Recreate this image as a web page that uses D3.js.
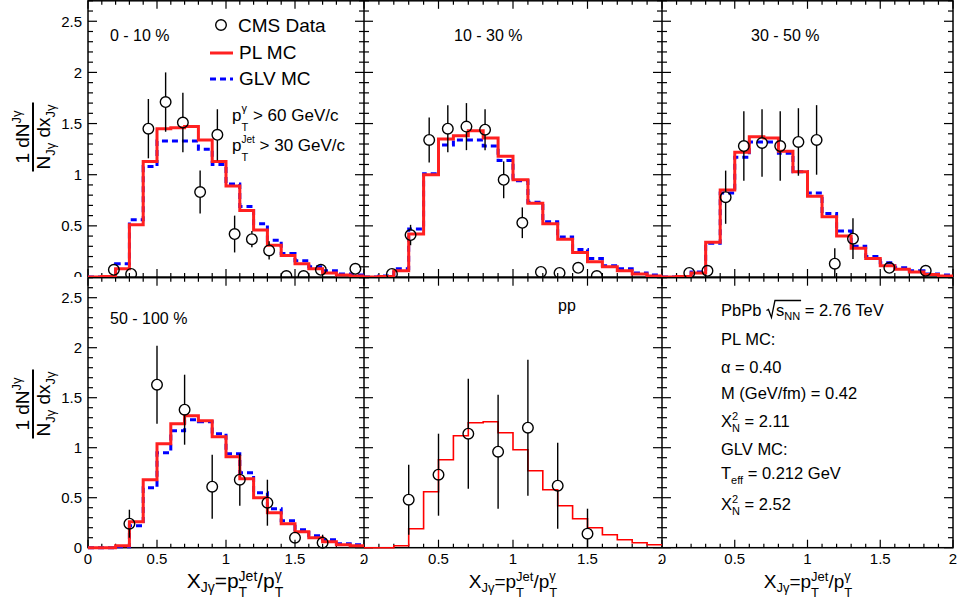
<!DOCTYPE html>
<html>
<head>
<meta charset="utf-8">
<script src="https://cdn.jsdelivr.net/npm/d3@7"></script>
<style>
body { margin: 0; background: #fff; }
svg text { font-family: "Liberation Sans", Arial, Helvetica, sans-serif; white-space: pre; fill: #000; }
</style>
</head>
<body>
<svg id="chart" width="958" height="605"></svg>
<script>
// histogram bin edges (x_Jgamma), shared by all MC curves
var binEdges = [0, 0.1, 0.2, 0.3, 0.4, 0.5, 0.6, 0.7, 0.8, 0.9, 1.0,
                1.1, 1.2, 1.3, 1.4, 1.5, 1.6, 1.7, 1.8, 1.9, 2.0];

// PL MC (red) and GLV MC (blue dashed), one value per bin
var pl_0_10   = [0.0, 0.005, 0.08, 0.51, 1.13, 1.45, 1.46, 1.47, 1.34, 1.13, 0.89, 0.65, 0.46, 0.31, 0.21, 0.13, 0.08, 0.04, 0.02, 0.01];
var glv_0_10  = [0.0, 0.0, 0.13, 0.56, 1.08, 1.33, 1.33, 1.33, 1.25, 1.10, 0.91, 0.69, 0.52, 0.36, 0.23, 0.16, 0.10, 0.06, 0.03, 0.02];
var pl_10_30  = [0.0, 0.005, 0.06, 0.42, 1.00, 1.35, 1.38, 1.43, 1.36, 1.18, 0.95, 0.72, 0.52, 0.37, 0.24, 0.15, 0.10, 0.06, 0.03, 0.01];
var glv_10_30 = [0.0, 0.01, 0.08, 0.47, 1.01, 1.29, 1.34, 1.34, 1.28, 1.14, 0.94, 0.73, 0.54, 0.39, 0.27, 0.18, 0.11, 0.08, 0.04, 0.02];
var pl_30_50  = [0.0, 0.005, 0.04, 0.34, 0.85, 1.22, 1.37, 1.36, 1.23, 1.03, 0.79, 0.59, 0.40, 0.28, 0.18, 0.11, 0.075, 0.05, 0.025, 0.01];
var glv_30_50 = [0.0, 0.005, 0.05, 0.33, 0.82, 1.17, 1.32, 1.32, 1.21, 1.03, 0.82, 0.62, 0.45, 0.30, 0.20, 0.14, 0.09, 0.06, 0.03, 0.02];
var pl_50_100 = [0.0, 0.0, 0.02, 0.26, 0.68, 1.04, 1.24, 1.32, 1.27, 1.11, 0.91, 0.69, 0.50, 0.35, 0.24, 0.16, 0.10, 0.06, 0.03, 0.02];
var glv_50_100= [0.0, 0.0, 0.01, 0.22, 0.60, 0.95, 1.17, 1.28, 1.26, 1.14, 0.94, 0.75, 0.55, 0.39, 0.27, 0.18, 0.12, 0.08, 0.04, 0.03];
var pl_pp     = [0.0, 0.0, 0.02, 0.19, 0.56, 0.88, 1.12, 1.25, 1.26, 1.15, 0.98, 0.77, 0.58, 0.42, 0.29, 0.20, 0.13, 0.08, 0.05, 0.03];

// CMS data points: x, value, error
var cmsX_0_10 = [0.1875, 0.3125, 0.4375, 0.5625, 0.6875, 0.8125, 0.9375, 1.0625, 1.1875, 1.3125, 1.4375, 1.5625, 1.6875, 1.9375];
var cmsY_0_10 = [0.07, 0.03, 1.45, 1.71, 1.51, 0.83, 1.39, 0.42, 0.37, 0.26, 0.01, 0.01, 0.07, 0.08];
var cmsE_0_10 = [0.02, 0.0, 0.29, 0.29, 0.29, 0.21, 0.25, 0.18, 0.08, 0.09, 0.0, 0.0, 0.02, 0.02];

var cmsX_10_30 = [0.1875, 0.3125, 0.4375, 0.5625, 0.6875, 0.8125, 0.9375, 1.0625, 1.1875, 1.3125, 1.4375, 1.5625];
var cmsY_10_30 = [0.03, 0.41, 1.34, 1.45, 1.47, 1.44, 0.95, 0.53, 0.05, 0.04, 0.09, 0.01];
var cmsE_10_30 = [0.0, 0.10, 0.22, 0.23, 0.23, 0.20, 0.18, 0.15, 0.05, 0.05, 0.04, 0.0];

var cmsX_30_50 = [0.1875, 0.3125, 0.4375, 0.5625, 0.6875, 0.8125, 0.9375, 1.0625, 1.1875, 1.3125, 1.5625, 1.8125];
var cmsY_30_50 = [0.04, 0.06, 0.78, 1.28, 1.31, 1.28, 1.32, 1.34, 0.13, 0.375, 0.09, 0.06];
var cmsE_30_50 = [0.0, 0.03, 0.26, 0.34, 0.33, 0.34, 0.33, 0.34, 0.15, 0.20, 0.05, 0.02];

var cmsX_50_100 = [0.3, 0.5, 0.7, 0.9, 1.1, 1.3, 1.5, 1.7];
var cmsY_50_100 = [0.24, 1.63, 1.38, 0.61, 0.68, 0.45, 0.10, 0.05];
var cmsE_50_100 = [0.14, 0.39, 0.35, 0.32, 0.26, 0.23, 0.04, 0.08];

var cmsX_pp = [0.3, 0.5, 0.7, 0.9, 1.1, 1.3, 1.5];
var cmsY_pp = [0.48, 0.73, 1.14, 0.96, 1.20, 0.62, 0.14];
var cmsE_pp = [0.35, 0.41, 0.55, 0.57, 0.68, 0.43, 0.25];

var centLabels = ["0 - 10 %", "10 - 30 %", "30 - 50 %", "50 - 100 %", "pp"];
var yTickLabels = [0, 0.5, 1, 1.5, 2, 2.5];
var xTickLabels = [0, 0.5, 1, 1.5, 2];

var fitText = ["PL MC:", "\u03b1 = 0.40", "M (GeV/fm) = 0.42", "2.11", "GLV MC:", "0.212 GeV", "2.52"];

var svg = d3.select("#chart");
var RED = "#ff2020", BLUE = "#0000ff";

// pad geometry (ROOT-like canvas divided 3x2)
var cols = [{px: [0, 364], fx: [88, 364]},
            {px: [364, 662], fx: [364, 662]},
            {px: [662, 958], fx: [662, 953]}];
var rows = [{py: [0, 277], fy: [277, 0.8]},
            {py: [277, 605], fy: [547.7, 277.7]}];

var panels = [
  {c: 0, r: 0, lab: centLabels[0], lx: 110, ly: 41, pl: pl_0_10, glv: glv_0_10, dx: cmsX_0_10, dy: cmsY_0_10, de: cmsE_0_10},
  {c: 1, r: 0, lab: centLabels[1], lx: 454, ly: 41, pl: pl_10_30, glv: glv_10_30, dx: cmsX_10_30, dy: cmsY_10_30, de: cmsE_10_30},
  {c: 2, r: 0, lab: centLabels[2], lx: 751, ly: 41, pl: pl_30_50, glv: glv_30_50, dx: cmsX_30_50, dy: cmsY_30_50, de: cmsE_30_50},
  {c: 0, r: 1, lab: centLabels[3], lx: 110, ly: 324, pl: pl_50_100, glv: glv_50_100, dx: cmsX_50_100, dy: cmsY_50_100, de: cmsE_50_100},
  {c: 1, r: 1, lab: centLabels[4], lx: 558, ly: 311, pl: pl_pp, glv: null, dx: cmsX_pp, dy: cmsY_pp, de: cmsE_pp, thin: true},
  {c: 2, r: 1, lab: null}
];

// small TLatex-like helper: lays out pieces of text with sub/superscripts
function rich(parent, parts) {
  var grp = parent.append("g");
  var x = 0, start = 0;
  parts.forEach(function(p) {
    if (p.gap) { p.x0 = x; x += p.gap; start = p.x0; return; }
    var x0 = p.stack ? start : x;
    var t = grp.append("text").attr("x", x0).attr("y", p.dy || 0)
      .style("font-size", p.s + "px").text(p.t);
    var w = t.node().getComputedTextLength();
    p.x0 = x0; p.w = w;
    if (p.stack) { x = Math.max(x, x0 + w); }
    else { start = x0; x = x0 + w; }
  });
  return {g: grp, w: x, parts: parts};
}

function xTitleParts(big, small) {
  return [{t: "X", s: big}, {t: "J\u03b3", s: small, dy: 4}, {t: "=p", s: big},
          {t: "Jet", s: small, dy: -7}, {t: "T", s: small, dy: 9, stack: true},
          {t: "/p", s: big}, {t: "\u03b3", s: small, dy: -8}, {t: "T", s: small, dy: 9, stack: true}];
}

function histPoints(vals, x, y) {
  var pts = [];
  vals.forEach(function(v, i) {
    pts.push([x(binEdges[i]), y(v)]);
    pts.push([x(binEdges[i + 1]), y(v)]);
  });
  return pts;
}

var lineGen = d3.line();

panels.forEach(function(p, k) {
  var col = cols[p.c], row = rows[p.r];
  svg.append("clipPath").attr("id", "pad" + k).append("rect")
    .attr("x", col.px[0]).attr("y", row.py[0])
    .attr("width", col.px[1] - col.px[0]).attr("height", row.py[1] - row.py[0]);
  var g = svg.append("g").attr("clip-path", "url(#pad" + k + ")");
  g.append("rect").attr("x", col.px[0]).attr("y", row.py[0])
    .attr("width", col.px[1] - col.px[0]).attr("height", row.py[1] - row.py[0])
    .attr("fill", "#fff");

  var x = d3.scaleLinear().domain([0, 2]).range(col.fx);
  var y = d3.scaleLinear().domain([0, 2.7]).range(row.fy);

  // ticks, pointing into the frame on all four sides
  var tk = g.append("g").attr("stroke", "#000").attr("stroke-width", 1.2);
  d3.range(0, 2.0001, 0.1).forEach(function(v) {
    var major = Math.abs(v / 0.5 - Math.round(v / 0.5)) < 1e-6;
    var L = major ? 8 : 4;
    tk.append("line").attr("x1", x(v)).attr("x2", x(v)).attr("y1", y(0)).attr("y2", y(0) - L);
    tk.append("line").attr("x1", x(v)).attr("x2", x(v)).attr("y1", y(2.7)).attr("y2", y(2.7) + L);
  });
  d3.range(0, 2.7001, 0.1).forEach(function(v) {
    var major = Math.abs(v / 0.5 - Math.round(v / 0.5)) < 1e-6;
    var L = major ? 9 : 5;
    tk.append("line").attr("y1", y(v)).attr("y2", y(v)).attr("x1", x(0)).attr("x2", x(0) + L);
    tk.append("line").attr("y1", y(v)).attr("y2", y(v)).attr("x1", x(2)).attr("x2", x(2) - L);
  });
  g.append("rect").attr("x", x(0)).attr("y", y(2.7))
    .attr("width", x(2) - x(0)).attr("height", y(0) - y(2.7))
    .attr("fill", "none").attr("stroke", "#000").attr("stroke-width", 1.5);

  // tick labels
  if (p.c === 0) {
    yTickLabels.forEach(function(v) {
      g.append("text").attr("x", x(0) - 6).attr("y", y(v)).attr("dy", "0.36em")
        .attr("text-anchor", "end").style("font-size", "15px").text(v);
    });
    // y title as a fraction, rotated
    var cy = p.r === 0 ? 137 : 404;
    var yt = g.append("g").attr("transform", "translate(33," + cy + ") rotate(-90)");
    var num = rich(yt, [{t: "1 dN", s: 19}, {t: "J\u03b3", s: 13, dy: -8}]);
    var den = rich(yt, [{t: "N", s: 19}, {t: "J\u03b3", s: 13, dy: 5}, {t: " dx", s: 19}, {t: "J\u03b3", s: 13, dy: 5}]);
    num.g.attr("transform", "translate(" + (-num.w / 2) + ",-4)");
    den.g.attr("transform", "translate(" + (-den.w / 2) + ",17)");
    var bl = Math.max(num.w, den.w) / 2 + 2;
    yt.append("line").attr("x1", -bl).attr("x2", bl).attr("y1", 0).attr("y2", 0)
      .attr("stroke", "#000").attr("stroke-width", 2);
  }
  if (p.r === 1) {
    xTickLabels.forEach(function(v) {
      g.append("text").attr("x", x(v)).attr("y", 564)
        .attr("text-anchor", "middle").style("font-size", "15px").text(v);
    });
    var xt = p.c === 0 ? rich(g, xTitleParts(21, 14)) : rich(g, xTitleParts(19, 13));
    var xc = [235, 513, 808][p.c];
    xt.g.attr("transform", "translate(" + (xc - xt.w / 2) + ",588)");
  }

  if (p.lab) {
    g.append("text").attr("x", p.lx).attr("y", p.ly).style("font-size", "16px").text(p.lab);
  }

  // MC histograms
  if (p.glv) {
    g.append("path").attr("d", lineGen(histPoints(p.glv, x, y)))
      .attr("fill", "none").attr("stroke", BLUE).attr("stroke-width", 3)
      .attr("stroke-dasharray", "6,4");
  }
  if (p.pl) {
    g.append("path").attr("d", lineGen(histPoints(p.pl, x, y)))
      .attr("fill", "none").attr("stroke", p.thin ? "#ff0000" : RED)
      .attr("stroke-width", p.thin ? 1.6 : 3);
  }

  // CMS data: open circles with vertical error bars
  if (p.dx) {
    var R = 5.3;
    p.dx.forEach(function(xv, i) {
      var cx = x(xv), cyy = y(p.dy[i]);
      var top = y(p.dy[i] + p.de[i]), bot = y(Math.max(0, p.dy[i] - p.de[i]));
      if (cyy - R > top) g.append("line").attr("x1", cx).attr("x2", cx).attr("y1", top).attr("y2", cyy - R)
        .attr("stroke", "#000").attr("stroke-width", 1.4);
      if (cyy + R < bot) g.append("line").attr("x1", cx).attr("x2", cx).attr("y1", cyy + R).attr("y2", bot)
        .attr("stroke", "#000").attr("stroke-width", 1.4);
      g.append("circle").attr("cx", cx).attr("cy", cyy).attr("r", R)
        .attr("fill", "none").attr("stroke", "#000").attr("stroke-width", 1.4);
    });
  }

  if (k === 0) {
    // legend
    g.append("circle").attr("cx", 221).attr("cy", 25).attr("r", 5.3)
      .attr("fill", "none").attr("stroke", "#000").attr("stroke-width", 1.4);
    g.append("text").attr("x", 238).attr("y", 32).style("font-size", "19px").text("CMS Data");
    g.append("line").attr("x1", 210).attr("x2", 233).attr("y1", 53).attr("y2", 53)
      .attr("stroke", RED).attr("stroke-width", 3);
    g.append("text").attr("x", 239).attr("y", 59).style("font-size", "19px").text("PL MC");
    g.append("line").attr("x1", 210).attr("x2", 233).attr("y1", 79).attr("y2", 79)
      .attr("stroke", BLUE).attr("stroke-width", 3).attr("stroke-dasharray", "6,4");
    g.append("text").attr("x", 239).attr("y", 85).style("font-size", "19px").text("GLV MC");
    var c1 = rich(g, [{t: "p", s: 17}, {t: "\u03b3", s: 11, dy: -9}, {t: "T", s: 11, dy: 10, stack: true},
                      {t: " > 60 GeV/c", s: 17}]);
    c1.g.attr("transform", "translate(232,120.5)");
    var c2 = rich(g, [{t: "p", s: 17}, {t: "Jet", s: 10, dy: -8}, {t: "T", s: 11, dy: 10, stack: true},
                      {t: " > 30 GeV/c", s: 17}]);
    c2.g.attr("transform", "translate(232,150.5)");
  }

  if (k === 5) {
    var tx = 721, fs = 16.5, ss = 11;
    var l0 = rich(g, [{t: "PbPb ", s: fs}, {gap: 10}, {t: "s", s: fs}, {t: "NN", s: ss, dy: 4},
                      {t: " = 2.76 TeV", s: fs}]);
    l0.g.attr("transform", "translate(" + tx + ",315.5)");
    var gp = l0.parts[1], nn = l0.parts[3];
    l0.g.append("path")
      .attr("d", "M" + (gp.x0 + 0.5) + ",-5 L" + (gp.x0 + 2.5) + ",-6 L" + (gp.x0 + 5.5) + ",2 L" +
        (gp.x0 + 9) + ",-15 L" + (nn.x0 + nn.w + 1) + ",-15")
      .attr("fill", "none").attr("stroke", "#000").attr("stroke-width", 1.3);
    g.append("text").attr("x", tx).attr("y", 345).style("font-size", fs + "px").text(fitText[0]);
    g.append("text").attr("x", tx).attr("y", 372.5).style("font-size", fs + "px").text(fitText[1]);
    g.append("text").attr("x", tx).attr("y", 399).style("font-size", fs + "px").text(fitText[2]);
    var l4 = rich(g, [{t: "X", s: fs}, {t: "2", s: ss, dy: -7}, {t: "N", s: ss, dy: 5, stack: true},
                      {t: " = " + fitText[3], s: fs}]);
    l4.g.attr("transform", "translate(" + tx + ",426.5)");
    g.append("text").attr("x", tx).attr("y", 455).style("font-size", fs + "px").text(fitText[4]);
    var l6 = rich(g, [{t: "T", s: fs}, {t: "eff", s: ss, dy: 5}, {t: " = " + fitText[5], s: fs}]);
    l6.g.attr("transform", "translate(" + tx + ",479)");
    var l7 = rich(g, [{t: "X", s: fs}, {t: "2", s: ss, dy: -7}, {t: "N", s: ss, dy: 5, stack: true},
                      {t: " = " + fitText[6], s: fs}]);
    l7.g.attr("transform", "translate(" + tx + ",510)");
  }
});
</script>
</body>
</html>
